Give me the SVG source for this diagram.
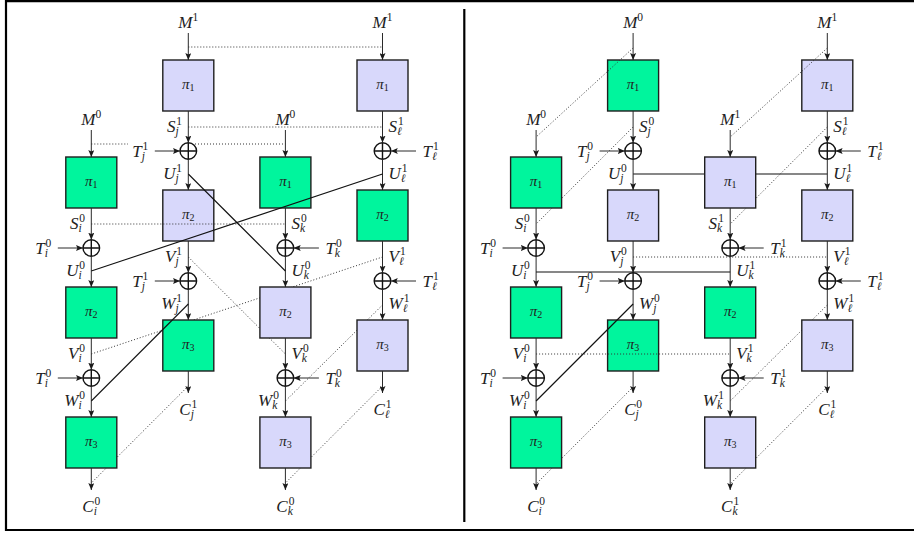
<svg xmlns="http://www.w3.org/2000/svg" xmlns:xlink="http://www.w3.org/1999/xlink" width="914" height="536" viewBox="0 0 914 536">
<style>
.frame{stroke:#000;stroke-width:2.2;fill:none}
.box{stroke:#1e1e1e;stroke-width:1.4}
.g{fill:#00f59d}
.b{fill:#d8d8fb}
.ar{stroke:#2a2a2a;stroke-width:1;fill:none;marker-end:url(#ah)}
.xor{fill:none;stroke:#111;stroke-width:1.4}
.sol{stroke:#111;stroke-width:1.1;fill:none}
.dot{stroke:#333;stroke-width:1;stroke-dasharray:1 2;fill:none}
text{font-family:"Liberation Serif","DejaVu Serif",serif;fill:#222}
.t{font-style:italic;font-size:17px}
.e{text-anchor:end}
.m{text-anchor:middle}
.s{font-size:11.5px}
.n{font-style:normal}
.pl{font-style:italic;font-size:15px;text-anchor:middle}
.ps{font-style:normal;font-size:10px}
</style>
<defs>
<marker id="ah" viewBox="0 0 7 6" refX="7" refY="3" markerWidth="7" markerHeight="6" markerUnits="userSpaceOnUse" orient="auto">
<path d="M0,0 L7,3 L0,6 L1.4,3 z" fill="#1a1a1a"/>
</marker>
<g id="xo" class="xor"><circle r="8.3"/><path d="M-8.3,0H8.3M0,-8.3V8.3"/></g>
</defs>

<!-- outer frame and panel divider -->
<g id="frame" class="frame">
<path d="M5,1.2H914M6,0V531M5,530H914"/>
<path d="M464.3,9V522"/>
</g>

<!-- connectors drawn underneath the permutation boxes -->
<g id="connectors-back">
<!-- left panel -->
<line class="dot" x1="188.3" y1="257" x2="285.4" y2="354"/>
<line class="dot" x1="91.3" y1="354" x2="382.5" y2="257"/>
<line class="dot" x1="382.5" y1="305" x2="285.4" y2="401"/>
<line class="dot" x1="188.3" y1="386" x2="91.3" y2="483"/>
<line class="dot" x1="382.5" y1="386" x2="285.4" y2="483"/>
<!-- right panel -->
<line class="dot" x1="633.1" y1="127" x2="536.1" y2="224"/>
<line class="dot" x1="827.3" y1="127" x2="730.2" y2="224"/>
<line class="dot" x1="827.3" y1="305" x2="730.2" y2="401"/>
<line class="dot" x1="633.1" y1="387" x2="536.1" y2="484"/>
<line class="dot" x1="827.3" y1="387" x2="730.2" y2="484"/>
<line class="sol" x1="633.1" y1="174" x2="827.3" y2="174"/>
</g>

<!-- left panel: permutation boxes -->
<g id="L-J1"><rect class="box b" x="162.8" y="60" width="51" height="51"/><text class="pl" x="188.3" y="89">π<tspan class="ps" dy="2">1</tspan></text></g>
<g id="L-J2"><rect class="box b" x="162.8" y="190" width="51" height="51"/><text class="pl" x="188.3" y="219">π<tspan class="ps" dy="2">2</tspan></text></g>
<g id="L-J3"><rect class="box g" x="162.8" y="320" width="51" height="51"/><text class="pl" x="188.3" y="349">π<tspan class="ps" dy="2">3</tspan></text></g>
<g id="L-L1"><rect class="box b" x="357" y="60" width="51" height="51"/><text class="pl" x="382.5" y="89">π<tspan class="ps" dy="2">1</tspan></text></g>
<g id="L-L2"><rect class="box g" x="357" y="190" width="51" height="51"/><text class="pl" x="382.5" y="219">π<tspan class="ps" dy="2">2</tspan></text></g>
<g id="L-L3"><rect class="box b" x="357" y="320" width="51" height="51"/><text class="pl" x="382.5" y="349">π<tspan class="ps" dy="2">3</tspan></text></g>
<g id="L-I1"><rect class="box g" x="65.8" y="157" width="51" height="51"/><text class="pl" x="91.3" y="186">π<tspan class="ps" dy="2">1</tspan></text></g>
<g id="L-I2"><rect class="box g" x="65.8" y="287" width="51" height="51"/><text class="pl" x="91.3" y="316">π<tspan class="ps" dy="2">2</tspan></text></g>
<g id="L-I3"><rect class="box g" x="65.8" y="417" width="51" height="51"/><text class="pl" x="91.3" y="446">π<tspan class="ps" dy="2">3</tspan></text></g>
<g id="L-K1"><rect class="box g" x="259.9" y="157" width="51" height="51"/><text class="pl" x="285.4" y="186">π<tspan class="ps" dy="2">1</tspan></text></g>
<g id="L-K2"><rect class="box b" x="259.9" y="287" width="51" height="51"/><text class="pl" x="285.4" y="316">π<tspan class="ps" dy="2">2</tspan></text></g>
<g id="L-K3"><rect class="box b" x="259.9" y="417" width="51" height="51"/><text class="pl" x="285.4" y="446">π<tspan class="ps" dy="2">3</tspan></text></g>

<!-- right panel: permutation boxes -->
<g id="R-J1"><rect class="box g" x="607.6" y="60" width="51" height="51"/><text class="pl" x="633.1" y="89">π<tspan class="ps" dy="2">1</tspan></text></g>
<g id="R-J2"><rect class="box b" x="607.6" y="190" width="51" height="51"/><text class="pl" x="633.1" y="219">π<tspan class="ps" dy="2">2</tspan></text></g>
<g id="R-J3"><rect class="box g" x="607.6" y="320" width="51" height="51"/><text class="pl" x="633.1" y="349">π<tspan class="ps" dy="2">3</tspan></text></g>
<g id="R-L1"><rect class="box b" x="801.8" y="60" width="51" height="51"/><text class="pl" x="827.3" y="89">π<tspan class="ps" dy="2">1</tspan></text></g>
<g id="R-L2"><rect class="box b" x="801.8" y="190" width="51" height="51"/><text class="pl" x="827.3" y="219">π<tspan class="ps" dy="2">2</tspan></text></g>
<g id="R-L3"><rect class="box b" x="801.8" y="320" width="51" height="51"/><text class="pl" x="827.3" y="349">π<tspan class="ps" dy="2">3</tspan></text></g>
<g id="R-I1"><rect class="box g" x="510.6" y="157" width="51" height="51"/><text class="pl" x="536.1" y="186">π<tspan class="ps" dy="2">1</tspan></text></g>
<g id="R-I2"><rect class="box g" x="510.6" y="287" width="51" height="51"/><text class="pl" x="536.1" y="316">π<tspan class="ps" dy="2">2</tspan></text></g>
<g id="R-I3"><rect class="box g" x="510.6" y="417" width="51" height="51"/><text class="pl" x="536.1" y="446">π<tspan class="ps" dy="2">3</tspan></text></g>
<g id="R-K1"><rect class="box b" x="704.7" y="157" width="51" height="51"/><text class="pl" x="730.2" y="186">π<tspan class="ps" dy="2">1</tspan></text></g>
<g id="R-K2"><rect class="box g" x="704.7" y="287" width="51" height="51"/><text class="pl" x="730.2" y="316">π<tspan class="ps" dy="2">2</tspan></text></g>
<g id="R-K3"><rect class="box b" x="704.7" y="417" width="51" height="51"/><text class="pl" x="730.2" y="446">π<tspan class="ps" dy="2">3</tspan></text></g>

<!-- xor nodes -->
<g id="xors">
<use id="L-xJ1" href="#xo" x="188.3" y="151"/><use id="L-xJ2" href="#xo" x="188.3" y="281"/>
<use id="L-xL1" href="#xo" x="382.5" y="151"/><use id="L-xL2" href="#xo" x="382.5" y="281"/>
<use id="L-xI1" href="#xo" x="91.3" y="248"/><use id="L-xI2" href="#xo" x="91.3" y="378"/>
<use id="L-xK1" href="#xo" x="285.4" y="248"/><use id="L-xK2" href="#xo" x="285.4" y="378"/>
<use id="R-xJ1" href="#xo" x="633.1" y="151"/><use id="R-xJ2" href="#xo" x="633.1" y="281"/>
<use id="R-xL1" href="#xo" x="827.3" y="151"/><use id="R-xL2" href="#xo" x="827.3" y="281"/>
<use id="R-xI1" href="#xo" x="536.1" y="248"/><use id="R-xI2" href="#xo" x="536.1" y="378"/>
<use id="R-xK1" href="#xo" x="730.2" y="248"/><use id="R-xK2" href="#xo" x="730.2" y="378"/>
</g>

<!-- connectors: data-flow arrows, tweak inputs and equality links -->
<g id="connectors">
<!-- vertical flow, left panel -->
<line class="ar" x1="188.3" y1="33" x2="188.3" y2="60"/><line class="ar" x1="188.3" y1="111" x2="188.3" y2="142.7"/><line class="ar" x1="188.3" y1="159.3" x2="188.3" y2="190"/><line class="ar" x1="188.3" y1="241" x2="188.3" y2="272.7"/><line class="ar" x1="188.3" y1="289.3" x2="188.3" y2="320"/><line class="ar" x1="188.3" y1="371" x2="188.3" y2="393"/>
<line class="ar" x1="382.5" y1="33" x2="382.5" y2="60"/><line class="ar" x1="382.5" y1="111" x2="382.5" y2="142.7"/><line class="ar" x1="382.5" y1="159.3" x2="382.5" y2="190"/><line class="ar" x1="382.5" y1="241" x2="382.5" y2="272.7"/><line class="ar" x1="382.5" y1="289.3" x2="382.5" y2="320"/><line class="ar" x1="382.5" y1="371" x2="382.5" y2="393"/>
<line class="ar" x1="91.3" y1="130" x2="91.3" y2="157"/><line class="ar" x1="91.3" y1="208" x2="91.3" y2="239.7"/><line class="ar" x1="91.3" y1="256.3" x2="91.3" y2="287"/><line class="ar" x1="91.3" y1="338" x2="91.3" y2="369.7"/><line class="ar" x1="91.3" y1="386.3" x2="91.3" y2="417"/><line class="ar" x1="91.3" y1="468" x2="91.3" y2="490"/>
<line class="ar" x1="285.4" y1="130" x2="285.4" y2="157"/><line class="ar" x1="285.4" y1="208" x2="285.4" y2="239.7"/><line class="ar" x1="285.4" y1="256.3" x2="285.4" y2="287"/><line class="ar" x1="285.4" y1="338" x2="285.4" y2="369.7"/><line class="ar" x1="285.4" y1="386.3" x2="285.4" y2="417"/><line class="ar" x1="285.4" y1="468" x2="285.4" y2="490"/>
<!-- vertical flow, right panel -->
<line class="ar" x1="633.1" y1="33" x2="633.1" y2="60"/><line class="ar" x1="633.1" y1="111" x2="633.1" y2="142.7"/><line class="ar" x1="633.1" y1="159.3" x2="633.1" y2="190"/><line class="ar" x1="633.1" y1="241" x2="633.1" y2="272.7"/><line class="ar" x1="633.1" y1="289.3" x2="633.1" y2="320"/><line class="ar" x1="633.1" y1="371" x2="633.1" y2="393"/>
<line class="ar" x1="827.3" y1="33" x2="827.3" y2="60"/><line class="ar" x1="827.3" y1="111" x2="827.3" y2="142.7"/><line class="ar" x1="827.3" y1="159.3" x2="827.3" y2="190"/><line class="ar" x1="827.3" y1="241" x2="827.3" y2="272.7"/><line class="ar" x1="827.3" y1="289.3" x2="827.3" y2="320"/><line class="ar" x1="827.3" y1="371" x2="827.3" y2="393"/>
<line class="ar" x1="536.1" y1="130" x2="536.1" y2="157"/><line class="ar" x1="536.1" y1="208" x2="536.1" y2="239.7"/><line class="ar" x1="536.1" y1="256.3" x2="536.1" y2="287"/><line class="ar" x1="536.1" y1="338" x2="536.1" y2="369.7"/><line class="ar" x1="536.1" y1="386.3" x2="536.1" y2="417"/><line class="ar" x1="536.1" y1="468" x2="536.1" y2="490"/>
<line class="ar" x1="730.2" y1="130" x2="730.2" y2="157"/><line class="ar" x1="730.2" y1="208" x2="730.2" y2="239.7"/><line class="ar" x1="730.2" y1="256.3" x2="730.2" y2="287"/><line class="ar" x1="730.2" y1="338" x2="730.2" y2="369.7"/><line class="ar" x1="730.2" y1="386.3" x2="730.2" y2="417"/><line class="ar" x1="730.2" y1="468" x2="730.2" y2="490"/>
<!-- tweak inputs -->
<line class="ar" x1="154.8" y1="151" x2="180" y2="151"/><line class="ar" x1="154.8" y1="281" x2="180" y2="281"/>
<line class="ar" x1="57.8" y1="248" x2="83" y2="248"/><line class="ar" x1="57.8" y1="378" x2="83" y2="378"/>
<line class="ar" x1="318.9" y1="248" x2="293.7" y2="248"/><line class="ar" x1="318.9" y1="378" x2="293.7" y2="378"/>
<line class="ar" x1="416" y1="151" x2="390.8" y2="151"/><line class="ar" x1="416" y1="281" x2="390.8" y2="281"/>
<line class="ar" x1="599.6" y1="151" x2="624.8" y2="151"/><line class="ar" x1="599.6" y1="281" x2="624.8" y2="281"/>
<line class="ar" x1="502.6" y1="248" x2="527.8" y2="248"/><line class="ar" x1="502.6" y1="378" x2="527.8" y2="378"/>
<line class="ar" x1="763.7" y1="248" x2="738.5" y2="248"/><line class="ar" x1="763.7" y1="378" x2="738.5" y2="378"/>
<line class="ar" x1="860.8" y1="151" x2="835.6" y2="151"/><line class="ar" x1="860.8" y1="281" x2="835.6" y2="281"/>
<!-- equality links, left panel -->
<line class="dot" x1="188.3" y1="47" x2="382.5" y2="47"/>
<line class="dot" x1="188.3" y1="127" x2="382.5" y2="127"/>
<line class="dot" x1="91.3" y1="144" x2="128" y2="144"/>
<line class="dot" x1="195" y1="144" x2="285.4" y2="144"/>
<line class="dot" x1="91.3" y1="224" x2="285.4" y2="224"/>
<line class="sol" x1="188.3" y1="174" x2="285.4" y2="271"/>
<line class="sol" x1="91.3" y1="271" x2="382.5" y2="174"/>
<line class="sol" x1="91.3" y1="401" x2="188.3" y2="304"/>
<!-- equality links, right panel -->
<line class="dot" x1="633.1" y1="48" x2="536.1" y2="137"/>
<line class="dot" x1="827.3" y1="48" x2="730.2" y2="137"/>
<line class="dot" x1="633.1" y1="257" x2="827.3" y2="257"/>
<line class="dot" x1="536.1" y1="354" x2="730.2" y2="354"/>
<line class="sol" x1="536.1" y1="272" x2="730.2" y2="272"/>
<line class="sol" x1="536.1" y1="401" x2="633.1" y2="304"/>
</g>

<!-- value labels -->
<g id="labels">
<!-- left panel, column i -->
<text class="t m" x="91.3" y="125">M<tspan class="s n" dy="-7">0</tspan></text>
<text class="t e" x="85" y="229">S<tspan class="s" dy="2.5">i</tspan><tspan class="s n" dx="-2.4" dy="-9.5">0</tspan></text>
<text class="t e" x="51.3" y="254">T<tspan class="s" dy="2.5">i</tspan><tspan class="s n" dx="-2.4" dy="-9.5">0</tspan></text>
<text class="t e" x="85" y="276">U<tspan class="s" dy="2.5">i</tspan><tspan class="s n" dx="-2.4" dy="-9.5">0</tspan></text>
<text class="t e" x="85" y="359">V<tspan class="s" dy="2.5">i</tspan><tspan class="s n" dx="-2.4" dy="-9.5">0</tspan></text>
<text class="t e" x="51.3" y="384">T<tspan class="s" dy="2.5">i</tspan><tspan class="s n" dx="-2.4" dy="-9.5">0</tspan></text>
<text class="t e" x="85" y="406">W<tspan class="s" dy="2.5">i</tspan><tspan class="s n" dx="-2.4" dy="-9.5">0</tspan></text>
<text class="t m" x="91.3" y="512">C<tspan class="s" dy="2.5">i</tspan><tspan class="s n" dx="-2.4" dy="-9.5">0</tspan></text>
<!-- left panel, column j -->
<text class="t m" x="188.3" y="28">M<tspan class="s n" dy="-7">1</tspan></text>
<text class="t e" x="182" y="132">S<tspan class="s" dy="2.5">j</tspan><tspan class="s n" dx="-2.4" dy="-9.5">1</tspan></text>
<text class="t e" x="148.3" y="157">T<tspan class="s" dy="2.5">j</tspan><tspan class="s n" dx="-2.4" dy="-9.5">1</tspan></text>
<text class="t e" x="182" y="179">U<tspan class="s" dy="2.5">j</tspan><tspan class="s n" dx="-2.4" dy="-9.5">1</tspan></text>
<text class="t e" x="182" y="262">V<tspan class="s" dy="2.5">j</tspan><tspan class="s n" dx="-2.4" dy="-9.5">1</tspan></text>
<text class="t e" x="148.3" y="287">T<tspan class="s" dy="2.5">j</tspan><tspan class="s n" dx="-2.4" dy="-9.5">1</tspan></text>
<text class="t e" x="182" y="309">W<tspan class="s" dy="2.5">j</tspan><tspan class="s n" dx="-2.4" dy="-9.5">1</tspan></text>
<text class="t m" x="188.3" y="415">C<tspan class="s" dy="2.5">j</tspan><tspan class="s n" dx="-2.4" dy="-9.5">1</tspan></text>
<!-- left panel, column k -->
<text class="t m" x="285.4" y="125">M<tspan class="s n" dy="-7">0</tspan></text>
<text class="t" x="291.4" y="229">S<tspan class="s" dy="2.5">k</tspan><tspan class="s n" dx="-4" dy="-9.5">0</tspan></text>
<text class="t" x="325.4" y="254">T<tspan class="s" dy="2.5">k</tspan><tspan class="s n" dx="-4" dy="-9.5">0</tspan></text>
<text class="t" x="291.4" y="276">U<tspan class="s" dy="2.5">k</tspan><tspan class="s n" dx="-4" dy="-9.5">0</tspan></text>
<text class="t" x="291.4" y="359">V<tspan class="s" dy="2.5">k</tspan><tspan class="s n" dx="-4" dy="-9.5">0</tspan></text>
<text class="t" x="325.4" y="384">T<tspan class="s" dy="2.5">k</tspan><tspan class="s n" dx="-4" dy="-9.5">0</tspan></text>
<text class="t e" x="279" y="406">W<tspan class="s" dy="2.5">k</tspan><tspan class="s n" dx="-4" dy="-9.5">0</tspan></text>
<text class="t m" x="285.4" y="512">C<tspan class="s" dy="2.5">k</tspan><tspan class="s n" dx="-4" dy="-9.5">0</tspan></text>
<!-- left panel, column l -->
<text class="t m" x="382.5" y="28">M<tspan class="s n" dy="-7">1</tspan></text>
<text class="t" x="388.5" y="132">S<tspan class="s" dy="2.5">ℓ</tspan><tspan class="s n" dx="-3.8" dy="-9.5">1</tspan></text>
<text class="t" x="422.5" y="157">T<tspan class="s" dy="2.5">ℓ</tspan><tspan class="s n" dx="-3.8" dy="-9.5">1</tspan></text>
<text class="t" x="388.5" y="179">U<tspan class="s" dy="2.5">ℓ</tspan><tspan class="s n" dx="-3.8" dy="-9.5">1</tspan></text>
<text class="t" x="388.5" y="262">V<tspan class="s" dy="2.5">ℓ</tspan><tspan class="s n" dx="-3.8" dy="-9.5">1</tspan></text>
<text class="t" x="422.5" y="287">T<tspan class="s" dy="2.5">ℓ</tspan><tspan class="s n" dx="-3.8" dy="-9.5">1</tspan></text>
<text class="t" x="388.5" y="309">W<tspan class="s" dy="2.5">ℓ</tspan><tspan class="s n" dx="-3.8" dy="-9.5">1</tspan></text>
<text class="t m" x="382.5" y="415">C<tspan class="s" dy="2.5">ℓ</tspan><tspan class="s n" dx="-3.8" dy="-9.5">1</tspan></text>
<!-- right panel, column i -->
<text class="t m" x="536.1" y="125">M<tspan class="s n" dy="-7">0</tspan></text>
<text class="t e" x="529.8" y="229">S<tspan class="s" dy="2.5">i</tspan><tspan class="s n" dx="-2.4" dy="-9.5">0</tspan></text>
<text class="t e" x="496.1" y="254">T<tspan class="s" dy="2.5">i</tspan><tspan class="s n" dx="-2.4" dy="-9.5">0</tspan></text>
<text class="t e" x="529.8" y="276">U<tspan class="s" dy="2.5">i</tspan><tspan class="s n" dx="-2.4" dy="-9.5">0</tspan></text>
<text class="t e" x="529.8" y="359">V<tspan class="s" dy="2.5">i</tspan><tspan class="s n" dx="-2.4" dy="-9.5">0</tspan></text>
<text class="t e" x="496.1" y="384">T<tspan class="s" dy="2.5">i</tspan><tspan class="s n" dx="-2.4" dy="-9.5">0</tspan></text>
<text class="t e" x="529.8" y="406">W<tspan class="s" dy="2.5">i</tspan><tspan class="s n" dx="-2.4" dy="-9.5">0</tspan></text>
<text class="t m" x="536.1" y="512">C<tspan class="s" dy="2.5">i</tspan><tspan class="s n" dx="-2.4" dy="-9.5">0</tspan></text>
<!-- right panel, column j -->
<text class="t m" x="633.1" y="28">M<tspan class="s n" dy="-7">0</tspan></text>
<text class="t" x="639.1" y="132">S<tspan class="s" dy="2.5">j</tspan><tspan class="s n" dx="-2.4" dy="-9.5">0</tspan></text>
<text class="t e" x="593.1" y="157">T<tspan class="s" dy="2.5">j</tspan><tspan class="s n" dx="-2.4" dy="-9.5">0</tspan></text>
<text class="t e" x="626.8" y="179">U<tspan class="s" dy="2.5">j</tspan><tspan class="s n" dx="-2.4" dy="-9.5">0</tspan></text>
<text class="t e" x="626.8" y="262">V<tspan class="s" dy="2.5">j</tspan><tspan class="s n" dx="-2.4" dy="-9.5">0</tspan></text>
<text class="t e" x="593.1" y="287">T<tspan class="s" dy="2.5">j</tspan><tspan class="s n" dx="-2.4" dy="-9.5">0</tspan></text>
<text class="t" x="639.1" y="309">W<tspan class="s" dy="2.5">j</tspan><tspan class="s n" dx="-2.4" dy="-9.5">0</tspan></text>
<text class="t m" x="633.1" y="415">C<tspan class="s" dy="2.5">j</tspan><tspan class="s n" dx="-2.4" dy="-9.5">0</tspan></text>
<!-- right panel, column k -->
<text class="t m" x="730.2" y="125">M<tspan class="s n" dy="-7">1</tspan></text>
<text class="t e" x="723.9" y="229">S<tspan class="s" dy="2.5">k</tspan><tspan class="s n" dx="-4" dy="-9.5">1</tspan></text>
<text class="t" x="770.2" y="254">T<tspan class="s" dy="2.5">k</tspan><tspan class="s n" dx="-4" dy="-9.5">1</tspan></text>
<text class="t" x="736.2" y="276">U<tspan class="s" dy="2.5">k</tspan><tspan class="s n" dx="-4" dy="-9.5">1</tspan></text>
<text class="t" x="736.2" y="359">V<tspan class="s" dy="2.5">k</tspan><tspan class="s n" dx="-4" dy="-9.5">1</tspan></text>
<text class="t" x="770.2" y="384">T<tspan class="s" dy="2.5">k</tspan><tspan class="s n" dx="-4" dy="-9.5">1</tspan></text>
<text class="t e" x="723.9" y="406">W<tspan class="s" dy="2.5">k</tspan><tspan class="s n" dx="-4" dy="-9.5">1</tspan></text>
<text class="t m" x="730.2" y="512">C<tspan class="s" dy="2.5">k</tspan><tspan class="s n" dx="-4" dy="-9.5">1</tspan></text>
<!-- right panel, column l -->
<text class="t m" x="827.3" y="28">M<tspan class="s n" dy="-7">1</tspan></text>
<text class="t" x="833.3" y="132">S<tspan class="s" dy="2.5">ℓ</tspan><tspan class="s n" dx="-3.8" dy="-9.5">1</tspan></text>
<text class="t" x="867.3" y="157">T<tspan class="s" dy="2.5">ℓ</tspan><tspan class="s n" dx="-3.8" dy="-9.5">1</tspan></text>
<text class="t" x="833.3" y="179">U<tspan class="s" dy="2.5">ℓ</tspan><tspan class="s n" dx="-3.8" dy="-9.5">1</tspan></text>
<text class="t" x="833.3" y="262">V<tspan class="s" dy="2.5">ℓ</tspan><tspan class="s n" dx="-3.8" dy="-9.5">1</tspan></text>
<text class="t" x="867.3" y="287">T<tspan class="s" dy="2.5">ℓ</tspan><tspan class="s n" dx="-3.8" dy="-9.5">1</tspan></text>
<text class="t" x="833.3" y="309">W<tspan class="s" dy="2.5">ℓ</tspan><tspan class="s n" dx="-3.8" dy="-9.5">1</tspan></text>
<text class="t m" x="827.3" y="415">C<tspan class="s" dy="2.5">ℓ</tspan><tspan class="s n" dx="-3.8" dy="-9.5">1</tspan></text>
</g>
</svg>
